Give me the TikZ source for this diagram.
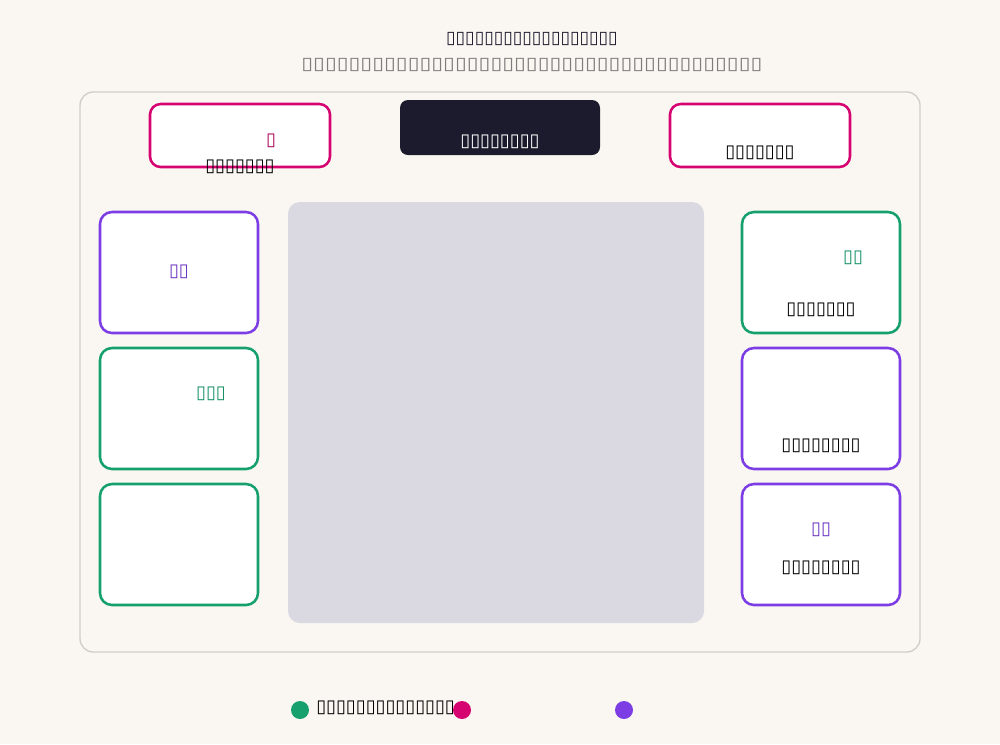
\documentclass[tikz,border=0pt]{standalone}
\usepackage{fontspec}
\setmainfont{DejaVu Sans}
\definecolor{cream}{RGB}{250,247,242}
\definecolor{framegray}{RGB}{208,206,204}
\definecolor{panelgray}{RGB}{218,216,224}
\definecolor{inkdark}{RGB}{28,27,46}
\definecolor{mgreen}{RGB}{22,160,110}
\definecolor{mpurple}{RGB}{124,62,228}
\definecolor{mpink}{RGB}{214,4,112}
\definecolor{subgray}{RGB}{125,125,125}
\begin{document}
\begin{tikzpicture}[x=0.75pt, y=-0.75pt]

    % Styles
    \tikzstyle{card} = [rectangle, rounded corners=9pt, draw, line width=1.9pt, fill=white, minimum width=118.5pt, minimum height=90.75pt]
    \tikzstyle{topcard} = [rectangle, rounded corners=8pt, draw=mpink, line width=1.9pt, fill=white, minimum width=135pt, minimum height=47.25pt]
    \tikzstyle{label} = [inner sep=0pt, font=\fontsize{13.5}{14}\selectfont]
    \tikzset{dot/.style={circle, inner sep=0pt, minimum size=13.5pt}}

    % Fond
    \useasboundingbox (0,0) rectangle (1000,744);
    \fill[cream] (0,0) rectangle (1000,744);

    % Titres
    \node (titre) [label, font=\fontsize{13}{14}\selectfont, text=inkdark] at (532,39) {▯▯▯▯▯▯▯▯▯▯▯▯▯▯▯▯▯▯};
    \node (soustitre) [label, font=\fontsize{13}{14}\selectfont\addfontfeature{FakeStretch=1.24}, text=subgray] at (532,65) {▯▯▯▯▯▯▯▯▯▯▯▯▯▯▯▯▯▯▯▯▯▯▯▯▯▯▯▯▯▯▯▯▯▯▯▯▯▯▯};

    % Cadre
    \node (cadre) [rectangle, rounded corners=10pt, draw=framegray, line width=1pt, fill=cream, minimum width=630pt, minimum height=420pt] at (500,372) {};
    \node (panneau) [rectangle, rounded corners=9pt, fill=panelgray, minimum width=312pt, minimum height=315.75pt] at (496,412.5) {};

    % Noeuds du haut
    \node (hautg) [topcard] at (240,135.5) {};
    \node (centre) [rectangle, rounded corners=6pt, fill=inkdark, minimum width=150pt, minimum height=41.25pt] at (500,127.5) {};
    \node (hautd) [topcard] at (760,135.5) {};
    \node (hautg-a) [label, text=mpink!80!black] at (271,141) {▯};
    \node (hautg-b) [label] at (240,167) {▯▯▯▯▯▯▯};
    \node (centre-a) [label, text=white] at (500,142) {▯▯▯▯▯▯▯▯};
    \node (hautd-a) [label] at (760,153) {▯▯▯▯▯▯▯};

    % Colonne gauche
    \node (g1) [card, draw=mpurple] at (179,272.5) {};
    \node (g2) [card, draw=mgreen] at (179,408.5) {};
    \node (g3) [card, draw=mgreen] at (179,544.5) {};
    \node (g1-a) [label, text=mpurple!85!black] at (179,272) {▯▯};
    \node (g2-a) [label, text=mgreen!90!black] at (211,394) {▯▯▯};

    % Colonne droite
    \node (d1) [card, draw=mgreen] at (821,272.5) {};
    \node (d2) [card, draw=mpurple] at (821,408.5) {};
    \node (d3) [card, draw=mpurple] at (821,544.5) {};
    \node (d1-a) [label, text=mgreen!90!black] at (853,258) {▯▯};
    \node (d1-b) [label] at (821,310) {▯▯▯▯▯▯▯};
    \node (d2-a) [label] at (821,446) {▯▯▯▯▯▯▯▯};
    \node (d3-a) [label, text=mpurple!85!black] at (821,530) {▯▯};
    \node (d3-b) [label] at (821,568) {▯▯▯▯▯▯▯▯};

    % Legende
    \node (pvert) [dot, fill=mgreen] at (300,710) {};
    \node (lvert) [label, anchor=west] at (316,708) {▯▯▯▯▯▯▯▯▯▯▯▯▯▯};
    \node (prose) [dot, fill=mpink] at (462,710) {};
    \node (pviolet) [dot, fill=mpurple] at (624,710) {};
\end{tikzpicture}
\end{document}
